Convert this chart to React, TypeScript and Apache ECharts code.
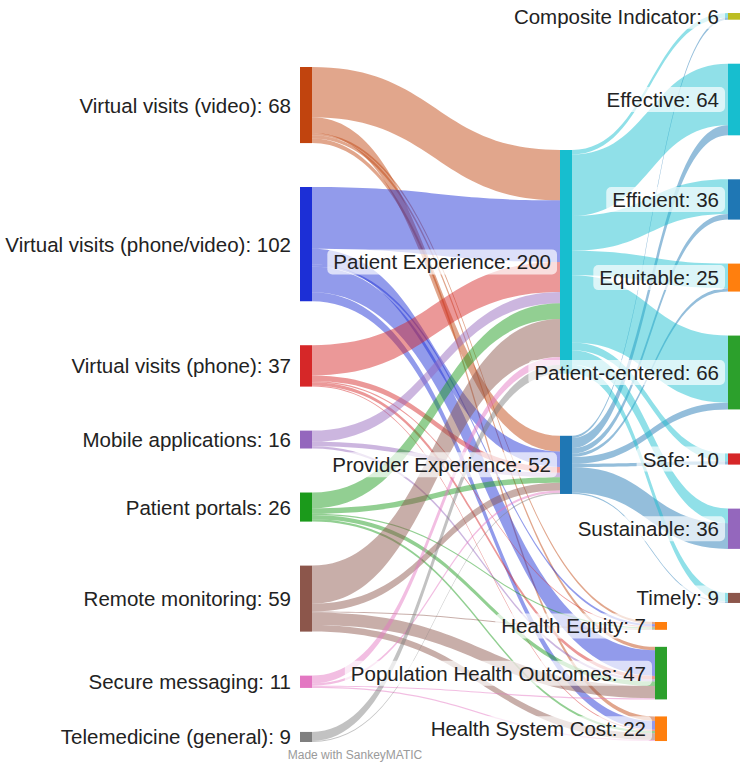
import React, { useEffect, useRef } from 'react';
import * as echarts from 'echarts';

// ---------- data ----------
const sources = [
  'Virtual visits (video)',
  'Virtual visits (phone/video)',
  'Virtual visits (phone)',
  'Mobile applications',
  'Patient portals',
  'Remote monitoring',
  'Secure messaging',
  'Telemedicine (general)',
];
const hubs = ['Patient Experience', 'Provider Experience'];
const dimensions = [
  'Composite Indicator',
  'Effective',
  'Efficient',
  'Equitable',
  'Patient-centered',
  'Safe',
  'Sustainable',
  'Timely',
];
const outcomes = ['Health Equity', 'Population Health Outcomes', 'Health System Cost'];

// flows from each source (same order as `sources`)
const toPatientExperience = [45, 55, 27, 10, 14, 34, 7, 8];
const toProviderExperience = [14, 14, 5, 4, 5, 7, 2, 1];
const toHealthEquity = [2, 2, 1, 0, 1, 1, 0, 0];
const toPopulationHealthOutcomes = [3, 23, 3, 2, 4, 11, 1, 0];
const toHealthSystemCost = [4, 8, 1, 0, 2, 6, 1, 0];

// flows from hubs to dimensions (same order as `dimensions`)
const fromPatientExperience = [4, 55, 31, 22, 60, 7, 13, 8];
const fromProviderExperience = [2, 9, 5, 3, 6, 3, 23, 1];

// ---------- styles ----------
const sourceColors = ['#c1440e', '#1c2fd6', '#d62728', '#9467bd', '#1b9a1b', '#8c564b', '#e377c2', '#7f7f7f'];
const hubColors = ['#17becf', '#1f77b4'];
const dimensionColors = ['#bcbd22', '#17becf', '#1f77b4', '#ff7f0e', '#2ca02c', '#d62728', '#9467bd', '#8c564b'];
const outcomeColors = ['#ff7f0e', '#2ca02c', '#ff7f0e'];

const FONT = '"Liberation Sans", Arial, Helvetica, sans-serif';
const CHART_W = 756;
const CHART_H = 766;
const BOX = { left: 300, right: 16, top: 13, bottom: 26 };
const NODE_WIDTH = 12;
const NODE_GAP = 36;

// column placement (px inside the series box): x offset (null = library default), start, gap
const columnLayout = [
  { names: sources, colors: sourceColors, x: null as number | null, start: 54, gap: 44 },
  { names: hubs, colors: hubColors, x: 260 as number | null, start: 137, gap: 62 },
  { names: dimensions, colors: dimensionColors, x: null as number | null, start: 0, gap: 44 },
  { names: outcomes, colors: outcomeColors, x: 355 as number | null, start: 609, gap: 17 },
];

function buildOption() {
  const links: { source: string; target: string; value: number }[] = [];
  const perSource: [string, number[]][] = [
    [hubs[0], toPatientExperience],
    [hubs[1], toProviderExperience],
    [outcomes[0], toHealthEquity],
    [outcomes[1], toPopulationHealthOutcomes],
    [outcomes[2], toHealthSystemCost],
  ];
  sources.forEach((s, i) => {
    perSource.forEach(([t, arr]) => {
      if (arr[i] > 0) links.push({ source: s, target: t, value: arr[i] });
    });
  });
  dimensions.forEach((d, j) => {
    if (fromPatientExperience[j] > 0) links.push({ source: hubs[0], target: d, value: fromPatientExperience[j] });
    if (fromProviderExperience[j] > 0) links.push({ source: hubs[1], target: d, value: fromProviderExperience[j] });
  });

  const inSum: Record<string, number> = {};
  const outSum: Record<string, number> = {};
  links.forEach((l) => {
    outSum[l.source] = (outSum[l.source] || 0) + l.value;
    inSum[l.target] = (inSum[l.target] || 0) + l.value;
  });
  const nodeValue = (n: string) => Math.max(inSum[n] || 0, outSum[n] || 0);

  const boxW = CHART_W - BOX.left - BOX.right;
  const boxH = CHART_H - BOX.top - BOX.bottom;
  // same scale rule as the library: depth columns
  const depthCols = [sources, hubs, [...dimensions, ...outcomes]];
  let ky = Infinity;
  depthCols.forEach((col) => {
    const sum = col.reduce((a, n) => a + nodeValue(n), 0);
    ky = Math.min(ky, (boxH - (col.length - 1) * NODE_GAP) / sum);
  });

  const nodes: any[] = [];
  columnLayout.forEach((col) => {
    let y = col.start;
    col.names.forEach((name, i) => {
      const v = nodeValue(name);
      const node: any = {
        name,
        value: v,
        itemStyle: { color: col.colors[i] },
        localY: y / boxH,
      };
      if (col.x != null) node.localX = col.x / boxW;
      nodes.push(node);
      y += v * ky + col.gap;
    });
  });

  return {
    animation: false,
    backgroundColor: '#ffffff',
    graphic: [
      {
        type: 'text',
        x: 355,
        y: 755,
        style: {
          text: 'Made with SankeyMATIC',
          fill: '#9a9a9a',
          font: `12px ${FONT}`,
          align: 'center',
          verticalAlign: 'middle',
          textAlign: 'center',
          textVerticalAlign: 'middle',
        },
      },
    ],
    series: [
      {
        type: 'sankey',
        left: BOX.left,
        right: BOX.right,
        top: BOX.top,
        bottom: BOX.bottom,
        nodeWidth: NODE_WIDTH,
        nodeGap: NODE_GAP,
        nodeAlign: 'justify',
        layoutIterations: 0,
        draggable: false,
        emphasis: { disabled: true },
        data: nodes,
        links,
        itemStyle: { borderWidth: 0 },
        lineStyle: { color: 'source', opacity: 0.48, curveness: 0.5 },
        label: {
          show: true,
          position: 'left',
          distance: 3,
          formatter: '{b}: {c}',
          fontFamily: FONT,
          fontSize: 20.5,
          color: '#222222',
          backgroundColor: 'rgba(255,255,255,0.68)',
          borderRadius: 5,
          padding: [2, 6, 2, 6],
        },
      },
    ],
  };
}

export default function App() {
  const ref = useRef<HTMLDivElement>(null);
  useEffect(() => {
    document.body.style.margin = '0';
    if (!ref.current) return;
    const chart = echarts.init(ref.current, undefined, { renderer: 'svg' });
    chart.setOption(buildOption() as any);
    return () => chart.dispose();
  }, []);
  return <div ref={ref} style={{ width: CHART_W + 'px', height: CHART_H + 'px' }} />;
}
